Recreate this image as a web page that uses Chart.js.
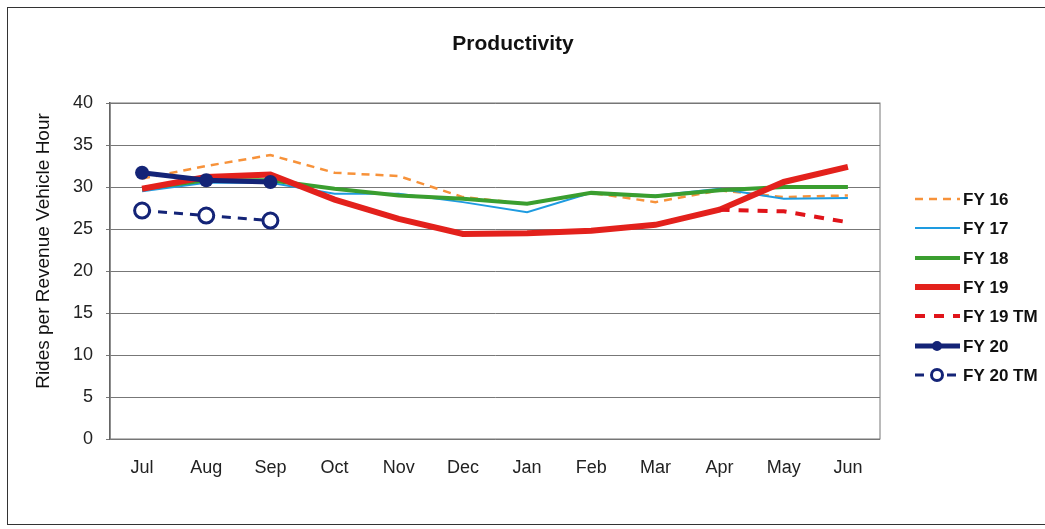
<!DOCTYPE html>
<html>
<head>
<meta charset="utf-8">
<script src="https://cdn.jsdelivr.net/npm/chart.js@4/dist/chart.umd.min.js"></script>
<style>
  html, body { margin: 0; padding: 0; background: #fff; }
  #wrap { position: relative; width: 1045px; height: 529px; }
  #frame { position: absolute; left: 7px; top: 7px; width: 1040px; height: 518px; border: 1.5px solid #333; border-right: none; box-sizing: border-box; pointer-events: none; }
  canvas { position: absolute; left: 0; top: 0; }
</style>
</head>
<body>
<div id="wrap">
  <canvas id="myChart" width="1045" height="529"></canvas>
  <div id="frame"></div>
</div>
<script>
// Data
const months = ['Jul', 'Aug', 'Sep', 'Oct', 'Nov', 'Dec', 'Jan', 'Feb', 'Mar', 'Apr', 'May', 'Jun'];
const fy16 = [31.0, 32.5, 33.8, 31.7, 31.3, 28.8, 28.0, 29.3, 28.2, 29.6, 28.8, 29.0];
const fy17 = [29.5, 30.5, 30.5, 29.2, 29.2, 28.2, 27.0, 29.3, 29.0, 29.8, 28.6, 28.7];
const fy18 = [29.8, 30.8, 30.8, 29.8, 29.0, 28.6, 28.0, 29.3, 28.9, 29.6, 30.0, 30.0];
const fy19 = [29.8, 31.2, 31.5, 28.5, 26.2, 24.4, 24.5, 24.8, 25.5, 27.3, 30.6, 32.4];
const fy19tm = [null, null, null, null, null, null, null, null, null, 27.3, 27.1, 25.8];
const fy20 = [31.7, 30.8, 30.6];
const fy20tm = [27.2, 26.6, 26.0];
const yTicks = [0, 5, 10, 15, 20, 25, 30, 35, 40];

const FONT = "'Liberation Sans', Arial, sans-serif";

const ctx = document.getElementById('myChart').getContext('2d');

const data = {
	labels: months,
	datasets: [
		{ label: 'FY 16', data: fy16, borderColor: '#f7923a', borderWidth: 2.5, borderDash: [8, 6], pointRadius: 0, order: 7 },
		{ label: 'FY 17', data: fy17, borderColor: '#1e9be0', borderWidth: 2, pointRadius: 0, order: 6 },
		{ label: 'FY 18', data: fy18, borderColor: '#3a9e2f', borderWidth: 4, pointRadius: 0, order: 5 },
		{ label: 'FY 19', data: fy19, borderColor: '#e3211c', borderWidth: 6, pointRadius: 0, order: 4 },
		{ label: 'FY 19 TM', data: fy19tm, borderColor: '#e0141a', borderWidth: 4, borderDash: [10, 9], pointRadius: 0, order: 3 },
		{ label: 'FY 20', data: fy20, borderColor: '#142477', backgroundColor: '#142477', borderWidth: 5, pointRadius: 7, pointBorderWidth: 0, order: 2 },
		{ label: 'FY 20 TM', data: fy20tm, borderColor: '#142477', backgroundColor: '#ffffff', borderWidth: 3, borderDash: [9, 7], pointRadius: 7.5, pointBorderWidth: 3, order: 1 },
	],
};

// title, axis title, plot frame and legend
const decor = {
	id: 'decor',
	beforeDatasetsDraw(chart) {
		const a = chart.chartArea;
		const c = chart.ctx;
		c.save();
		c.strokeStyle = '#777';
		c.lineWidth = 1;
		c.strokeRect(a.left, a.top, a.right - a.left, a.bottom - a.top);
		c.restore();
	},
	afterDraw(chart) {
		const c = chart.ctx;
		c.save();
		c.fillStyle = '#111';
		c.font = 'bold 21px ' + FONT;
		c.textAlign = 'center';
		c.textBaseline = 'middle';
		c.fillText('Productivity', 513, 44);

		c.translate(44, 251);
		c.rotate(-Math.PI / 2);
		c.font = '19px ' + FONT;
		c.fillText('Rides per Revenue Vehicle Hour', 0, 0);
		c.restore();

		// legend
		const ys = [199, 228, 258, 287, 316, 346, 375];
		chart.data.datasets.forEach(function (ds, i) {
			const y = ys[i];
			c.save();
			c.strokeStyle = ds.borderColor;
			c.lineWidth = ds.borderWidth;
			c.setLineDash(ds.borderDash || []);
			c.beginPath();
			c.moveTo(915, y);
			c.lineTo(960, y);
			c.stroke();
			c.setLineDash([]);
			if (ds.pointRadius) {
				c.beginPath();
				c.arc(937, y, ds.pointRadius - 2, 0, Math.PI * 2);
				c.fillStyle = ds.backgroundColor;
				c.fill();
				if (ds.pointBorderWidth) {
					c.lineWidth = ds.pointBorderWidth;
					c.stroke();
				}
			}
			c.fillStyle = '#111';
			c.font = 'bold 17px ' + FONT;
			c.textAlign = 'left';
			c.textBaseline = 'middle';
			c.fillText(ds.label, 963, y + 1);
			c.restore();
		});
	}
};

const ProdChart = new Chart(ctx, {
	type: 'line',
	data: data,
	options: {
		responsive: false,
		animation: false,
		layout: { padding: { left: 0, top: 103, right: 165, bottom: 0 } },
		plugins: { legend: { display: false }, title: { display: false }, tooltip: { enabled: false } },
		elements: { line: { tension: 0, borderCapStyle: 'butt' } },
		scales: {
			x: {
				offset: true,
				grid: { display: false },
				border: { display: false },
				ticks: { color: '#222', font: { family: FONT, size: 18 }, padding: 10, maxRotation: 0 },
				afterFit(scale) { scale.height = 90; },
			},
			y: {
				min: 0,
				max: 40,
				afterBuildTicks(scale) { scale.ticks = yTicks.map(function (v) { return { value: v }; }); },
				grid: { color: '#777', lineWidth: 1, tickLength: 4 },
				border: { color: '#555', width: 1.5 },
				ticks: { color: '#222', font: { family: FONT, size: 18 }, padding: 13 },
				afterFit(scale) { scale.width = 110; },
			},
		},
	},
	plugins: [decor],
});
</script>
</body>
</html>
